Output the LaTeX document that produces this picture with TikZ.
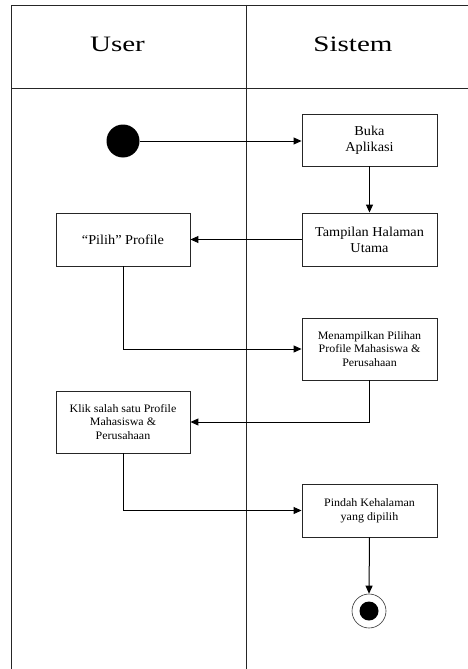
\documentclass[tikz,border=0pt]{standalone}
\usepackage{fontspec}
\setmainfont{Liberation Serif}
\newfontfamily\headfont[FakeStretch=1.32]{Liberation Serif}
\newfontfamily\boxfont[FakeStretch=1.05]{Liberation Serif}
\usetikzlibrary{arrows.meta}
\begin{document}
\begin{tikzpicture}[x=1pt,y=-1pt,
  lane/.style={line width=0.9pt,draw=black!85},
  actbox/.style={draw=black!85,line width=0.9pt,rectangle,minimum width=135pt,
    align=center,inner sep=2pt},
  bigtext/.style={font=\boxfont\fontsize{13.6}{16}\selectfont},
  smalltext/.style={font=\boxfont\fontsize{11.4}{13.6}\selectfont},
  flow/.style={line width=1pt,-{Triangle[length=8pt,width=7pt]}},
  headtext/.style={font=\headfont\fontsize{22}{26}\selectfont,anchor=base}]
\useasboundingbox (0,0) rectangle (468,669);
\fill[white] (0,0) rectangle (468,669);

% swimlane frame
\draw[lane] (468,5) -- (11,5) -- (11,669);
\draw[lane] (11,88) -- (468,88);
\draw[lane] (246,5) -- (246,669);
\node[headtext] (huser) at (117.5,52) {User};
\node[headtext] (hsistem) at (353,52) {Sistem};

% activities
\node[circle,fill=black,minimum size=33pt,inner sep=0pt] (start) at (123,141) {};
\node[actbox,bigtext,minimum height=52pt] (buka) at (369.5,140) {Buka\\Aplikasi};
\node[actbox,bigtext,minimum height=53pt] (tampil) at (369.5,239.5) {Tampilan Halaman\\Utama};
\node[actbox,bigtext,minimum width=134pt,minimum height=53pt] (pilih) at (123,239.5) {“Pilih” Profile};
\node[actbox,smalltext,minimum height=62pt] (menampil) at (369.5,349) {Menampilkan Pilihan\\Profile Mahasiswa \&\\Perusahaan};
\node[actbox,smalltext,minimum width=134pt,minimum height=62pt] (klik) at (123,422) {Klik salah satu Profile\\Mahasiswa \&\\Perusahaan};
\node[actbox,smalltext,minimum height=53pt] (pindah) at (369.5,510.5) {Pindah Kehalaman\\yang dipilih};
\node[circle,draw=black!80,line width=0.6pt,minimum size=34pt,inner sep=0pt] (end) at (369,611) {};
\node[circle,fill=black,minimum size=19pt,inner sep=0pt] (endin) at (end.center) {};

% control flow
\draw[flow] (start.east) -- (buka.west |- start.east);
\draw[flow] (buka.south) -- (tampil.north);
\draw[flow] (tampil.west) -- (pilih.east);
\draw[flow] (pilih.south) |- (menampil.west);
\draw[flow] (menampil.south) |- (klik.east);
\draw[flow] (klik.south) |- (pindah.west);
\draw[flow] (pindah.south) -- (end.north);
\end{tikzpicture}
\end{document}
